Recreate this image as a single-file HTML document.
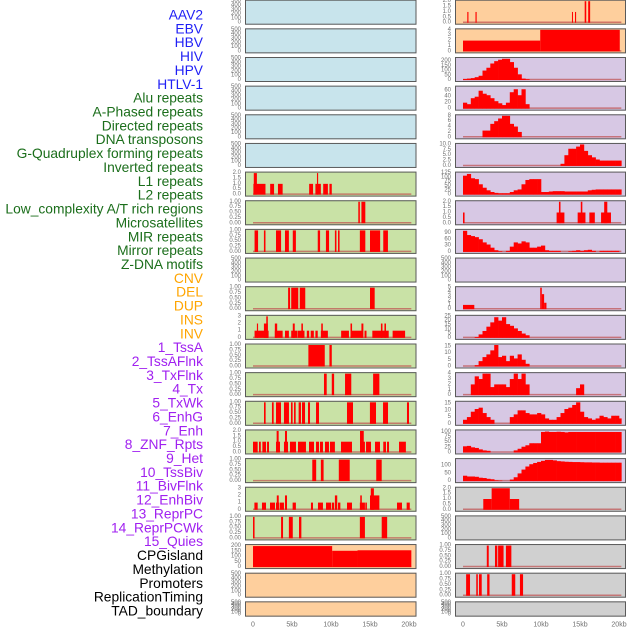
<!DOCTYPE html>
<html><head><meta charset="utf-8"><style>
html,body{margin:0;padding:0;background:#fff;width:630px;height:630px;overflow:hidden}
svg{display:block;font-family:"Liberation Sans",sans-serif}
</style></head><body>
<svg id="chart" width="630" height="630" viewBox="0 0 630 630"></svg>
<script>
// ---- labels ----
const rowLabels = ["AAV2","EBV","HBV","HIV","HPV","HTLV-1","Alu repeats","A-Phased repeats","Directed repeats","DNA transposons","G-Quadruplex forming repeats","Inverted repeats","L1 repeats","L2 repeats","Low_complexity A/T rich regions","Microsatellites","MIR repeats","Mirror repeats","Z-DNA motifs","CNV","DEL","DUP","INS","INV","1_TssA","2_TssAFlnk","3_TxFlnk","4_Tx","5_TxWk","6_EnhG","7_Enh","8_ZNF_Rpts","9_Het","10_TssBiv","11_BivFlnk","12_EnhBiv","13_ReprPC","14_ReprPCWk","15_Quies","CPGisland","Methylation","Promoters","ReplicationTiming","TAD_boundary"];
const labelGroups = [6,13,5,15,5];
const xTickValues = [0,5,10,15,20];
const xTickLabels = ["0","5kb","10kb","15kb","20kb"];
// ---- tick label sets ----
const T500 = ["0","100","200","300","400","500"];
const T1 = ["0.00","0.25","0.50","0.75","1.00"];
const T2 = ["0.0","0.5","1.0","1.5","2.0"];
const T3 = ["0","1","2","3"];
const T4 = ["0","1","2","3","4"];
// ---- interval data [startKb, endKb, value] ----
const alu = [[0.05,1.6,1],[0.1,0.5,2],[2.2,2.7,1],[3.2,3.8,1],[7.2,7.7,1],[8.0,8.7,1],[8.2,8.35,2],[9.0,9.6,1],[9.8,10.1,1]];
const aphased = [[13.5,13.7,1],[13.9,14.4,1]];
const directed = [[0.2,0.65,1],[1.4,1.6,1],[2.95,3.6,1],[4.1,4.6,1],[5.1,5.5,1],[8.3,8.6,1],[9.35,9.75,1],[10.5,10.7,1],[10.9,11.1,1],[13.7,14.4,1],[15.0,16.3,1],[16.7,17.3,1]];
const gquad = [[4.5,4.75,1],[4.9,5.8,1],[6.0,6.7,1],[15.0,15.6,1]];
const inverted = [[0.2,2.0,1],[0.5,0.65,2],[1.4,1.9,2],[1.7,1.9,3],[2.8,3.1,2],[2.8,3.8,1],[4.1,4.6,1],[4.9,5.7,1],[5.1,5.35,2],[5.75,6.6,1],[6.2,6.4,2],[6.9,7.2,1],[7.4,7.8,1],[8.0,8.3,1],[8.7,9.6,1],[8.75,8.95,2],[11.3,12.3,1],[12.5,14.0,1],[12.5,12.7,2],[13.9,14.15,2],[14.3,14.55,1],[15.3,17.4,1],[16.4,16.6,2],[16.85,17.05,2],[17.9,19.5,1]];
const l1 = [[7.1,9.2,1],[9.8,10.1,1]];
const l2 = [[9.1,9.45,1],[10.1,10.4,1],[11.8,12.6,1],[15.4,16.2,1]];
const lowcomp = [[1.41,1.62,1],[2.43,2.65,1],[2.95,3.59,1],[3.97,4.61,1],[4.87,5.08,1],[5.26,5.47,1],[5.85,6.15,1],[6.28,6.67,1],[7.05,7.31,1],[8.08,8.46,1],[12.05,12.82,1],[14.99,15.77,1],[16.67,17.31,1],[19.74,20.0,1]];
const micro = [[0,0.6,1],[0.77,1.0,1],[1.2,1.67,1],[1.8,2.05,1],[2.95,3.46,1],[3.03,3.29,2],[3.97,4.49,1],[4.1,4.36,2],[4.74,5.51,1],[5.77,6.79,1],[7.18,7.82,1],[8.08,8.46,1],[8.59,8.97,1],[9.23,9.74,1],[9.87,10.5,1],[11.28,12.69,1],[13.72,14.35,1],[13.72,14.2,2],[14.49,15.13,1],[15.64,16.28,1],[16.7,17.05,1],[17.18,17.44,1],[18.72,19.6,1]];
const mir = [[7.6,8.1,1],[8.7,9.05,1],[11.0,12.4,1],[15.8,16.5,1]];
const mirror = [[0.18,0.6,1],[1.15,1.67,1],[2.18,2.82,1],[2.95,3.38,1],[3.05,3.3,2],[3.46,3.97,1],[4.1,4.36,2],[5.08,5.5,1],[7.43,7.69,1],[8.33,8.97,1],[9.36,10.0,1],[10.1,10.4,1],[10.5,10.8,2],[10.9,11.2,1],[12.05,12.69,1],[13.7,14.35,1],[13.75,13.95,2],[14.4,14.6,1],[15.0,16.2,2],[15.1,15.5,3],[18.46,19.1,1],[19.7,20.1,1]];
const zdna = [[0,0.2,1],[3.6,3.85,1],[4.6,5.1,1],[5.9,6.2,1],[13.7,14.35,1],[16.5,17.2,1]];
const cnv = [[0,10.15,200],[10.15,13.4,155],[13.4,20.3,160]];
const ins = [[0.55,0.7,1],[1.6,1.75,1],[13.97,14.1,1],[14.36,14.5,1],[15.6,15.8,2],[16.05,16.3,2]];
const inv = [[0,9.9,2],[9.9,20.1,4]];
const enhG = [[0,0.2,1],[12.0,13.0,1],[12.3,12.5,2],[14.7,15.7,1],[15.1,15.3,2],[16.2,16.9,1],[17.7,18.97,1],[18.1,18.5,2]];
const het = [[0,1.45,1],[9.9,10.1,5],[10.1,10.4,3.5],[10.4,10.7,1.5]];
const cpg = [[2.6,3.67,1],[3.67,6.0,2],[6.0,7.2,1]];
const promoters = [[3.05,3.3,1],[4.1,4.4,1],[4.5,5.2,1],[5.5,6.2,1]];
const replication = [[0.4,0.9,1],[1.7,1.9,1],[2.05,2.4,1],[3.1,3.4,1],[6.25,6.7,1],[7.3,7.7,1]];
// ---- binned data (0.5kb bins from 0kb) ----
const tssA = [10,15,20,30,45,100,130,175,200,215,225,225,190,130,60,15,8,0,0,0,0,0,0,0,0,0,0,0,0,0,0,0,0,0,0,0,0,0,0,0,0];
const tssAFlnk = [20,15,35,40,60,50,45,35,25,18,12,20,55,65,45,65,15,0,0,0,0,0,0,0,0,0,0,0,0,0,0,0,0,0,0,0,0,0,0,0,0];
const txFlnk = [0,0,0,0,0,2.5,2.5,5,6,7,8,8,5,4,2,0,0,0,0,0,0,0,0,0,0,0,0,0,0,0,0,0,0,0,0,0,0,0,0,0,0];
const tx = [0,0,0,0,0,0,0,0,0,0,0,0,0,0,0,0,0,0,0,0,0,0,0,0,0,1,5,8,8,9,10,7,5,4,3,2.5,2.5,2.5,2.5,2.5,2.5];
const txWk = [110,120,95,90,60,40,25,15,10,8,8,8,15,25,30,60,85,90,90,90,15,15,18,20,20,20,18,18,18,18,18,18,25,28,30,30,30,30,30,30,30];
const enh = [100,80,75,70,60,45,35,20,8,3,0,5,25,45,40,50,45,20,20,25,30,8,5,5,5,0,0,3,5,8,5,8,10,5,0,5,5,5,5,5,0];
const tssBiv = [0,0,0,1,4,8,13,18,24,20,24,16,14,11,8,5,3,0,0,0,0,0,0,0,0,0,0,0,0,0,0,0,0,0,0,0,0,0,0,0,0];
const bivFlnk = [0,0,0,1,4,7,9,12,16,7,8,4,8,6,9,5,2,0,0,0,0,0,0,0,0,0,0,0,0,0,0,0,0,0,0,0,0,0,0,0,0];
const enhBiv = [0,0,2,3.5,3,4,4,1.5,2,2,2,1.5,3,4,3,4,2,0,0,0,0,0,0,0,0,0,0,0,0,1.3,2,0,0,0,0,0,0,0,0,0,0];
const reprPC = [3,5,9,11,12,8,5,3,0,0,0,0,5,7,10,10,8,7,7,8,7,4,3,3,5,8,11,12,14,16,9,5,4,3,4,6,5,4,6,6,4];
const reprPCWk = [30,32,25,22,15,10,8,0,0,0,0,0,0,10,18,28,35,45,45,45,100,102,100,100,101,100,98,100,100,100,100,100,100,100,100,100,100,100,100,100,100];
const quies = [35,30,30,28,22,20,15,12,5,3,0,0,10,25,50,75,95,110,118,125,132,138,138,135,130,128,126,125,124,124,123,122,122,121,121,120,120,120,120,120,120];

const BLUE="#c8e4ec",GREEN="#c9e2a6",PEACH="#fecf9d",LAV="#d7c8e4",GRAY="#d0d0d0";
const panels = [
 // left column
 {c:0,r:0,bg:BLUE,ymax:500,ticks:T500,iv:null},{c:0,r:1,bg:BLUE,ymax:500,ticks:T500,iv:null},
 {c:0,r:2,bg:BLUE,ymax:500,ticks:T500,iv:null},{c:0,r:3,bg:BLUE,ymax:500,ticks:T500,iv:null},
 {c:0,r:4,bg:BLUE,ymax:500,ticks:T500,iv:null},{c:0,r:5,bg:BLUE,ymax:500,ticks:T500,iv:null},
 {c:0,r:6,bg:GREEN,ymax:2,ticks:T2,iv:alu},{c:0,r:7,bg:GREEN,ymax:1,ticks:T1,iv:aphased},
 {c:0,r:8,bg:GREEN,ymax:1,ticks:T1,iv:directed},{c:0,r:9,bg:GREEN,ymax:500,ticks:T500,iv:null},
 {c:0,r:10,bg:GREEN,ymax:1,ticks:T1,iv:gquad},{c:0,r:11,bg:GREEN,ymax:3,ticks:T3,iv:inverted},
 {c:0,r:12,bg:GREEN,ymax:1,ticks:T1,iv:l1},{c:0,r:13,bg:GREEN,ymax:1,ticks:T1,iv:l2},
 {c:0,r:14,bg:GREEN,ymax:1,ticks:T1,iv:lowcomp},{c:0,r:15,bg:GREEN,ymax:2,ticks:T2,iv:micro},
 {c:0,r:16,bg:GREEN,ymax:1,ticks:T1,iv:mir},{c:0,r:17,bg:GREEN,ymax:3,ticks:T3,iv:mirror},
 {c:0,r:18,bg:GREEN,ymax:1,ticks:T1,iv:zdna},{c:0,r:19,bg:PEACH,ymax:205,ticks:["0","50","100","150","200"],iv:cnv},
 {c:0,r:20,bg:PEACH,ymax:500,ticks:T500,iv:null},{c:0,r:21,bg:PEACH,ymax:500,ticks:T500,iv:null},
 // right column
 {c:1,r:0,bg:PEACH,ymax:2,ticks:T2,iv:ins},{c:1,r:1,bg:PEACH,ymax:4,ticks:T4,iv:inv},
 {c:1,r:2,bg:LAV,ymax:228,ticks:["0","50","100","150","200"],bins:tssA},
 {c:1,r:3,bg:LAV,ymax:72,ticks:["0","20","40","60"],bins:tssAFlnk},
 {c:1,r:4,bg:LAV,ymax:8,ticks:["0","2","4","6","8"],bins:txFlnk},
 {c:1,r:5,bg:LAV,ymax:10,ticks:["0.0","2.5","5.0","7.5","10.0"],bins:tx},
 {c:1,r:6,bg:LAV,ymax:125,ticks:["0","25","50","75","100","125"],bins:txWk},
 {c:1,r:7,bg:LAV,ymax:2,ticks:T2,iv:enhG},
 {c:1,r:8,bg:LAV,ymax:102,ticks:["0","30","60","90"],bins:enh},
 {c:1,r:9,bg:LAV,ymax:500,ticks:T500,iv:null},
 {c:1,r:10,bg:LAV,ymax:5,ticks:["0","1","2","3","4","5"],iv:het},
 {c:1,r:11,bg:LAV,ymax:25,ticks:["0","5","10","15","20","25"],bins:tssBiv},
 {c:1,r:12,bg:LAV,ymax:16,ticks:["0","5","10","15"],bins:bivFlnk},
 {c:1,r:13,bg:LAV,ymax:4,ticks:T4,bins:enhBiv},
 {c:1,r:14,bg:LAV,ymax:16,ticks:["0","5","10","15"],bins:reprPC},
 {c:1,r:15,bg:LAV,ymax:105,ticks:["0","25","50","75","100"],bins:reprPCWk},
 {c:1,r:16,bg:LAV,ymax:140,ticks:["0","50","100"],bins:quies},
 {c:1,r:17,bg:GRAY,ymax:2,ticks:T2,iv:cpg},{c:1,r:18,bg:GRAY,ymax:500,ticks:T500,iv:null},
 {c:1,r:19,bg:GRAY,ymax:1,ticks:T1,iv:promoters},{c:1,r:20,bg:GRAY,ymax:1,ticks:T1,iv:replication},
 {c:1,r:21,bg:GRAY,ymax:500,ticks:T500,iv:null}
];

const NS="http://www.w3.org/2000/svg";
const svg=document.getElementById('chart');
function mk(tag,attrs,parent){const e=document.createElementNS(NS,tag);for(const k in attrs)e.setAttribute(k,attrs[k]);(parent||svg).appendChild(e);return e;}
const colX=[{l:245,r:416.5,x0:253},{l:455,r:626,x0:463}];
const KB=7.8, DATA_END=20.3;
function xScale(c,kb){return colX[c].x0+kb*KB;}
function rowTop(r){return 28.65*r-0.3;}
function rowH(r){return r===21?15.3:25;}
function yScale(p,v){const t=rowTop(p.r),h=rowH(p.r);const y0=t+h-2,y1=t+1.5;return y0-(v/p.ymax)*(y0-y1);}

// labels
const colors=["#1f1ff5","#1b6e1b","#ffa500","#a020f0","#000000"];
let gi=0,cnt=0;
rowLabels.forEach((txt,i)=>{
  while(cnt>=labelGroups[gi]){gi++;cnt=0;}
  cnt++;
  const t=mk('text',{x:203,y:15+13.86*i,'text-anchor':'end','dominant-baseline':'central','font-size':'13.8',fill:colors[gi]});
  t.textContent=txt;
  
  
});

panels.forEach((p,pi)=>{
  const g=mk('g',{});
  
  
  const t=rowTop(p.r),h=rowH(p.r),L=colX[p.c].l,R=colX[p.c].r;
  const bg=mk('rect',{x:L,y:t,width:R-L,height:h,fill:p.bg,stroke:'none'},g);
  
  
  // ticks
  p.ticks.forEach(s=>{
    const tt=mk('text',{x:L-4,y:yScale(p,parseFloat(s)),'text-anchor':'end','dominant-baseline':'central','font-size':'6',fill:'#707070'},g);
    tt.textContent=s;
    
    
  });
  const y0=yScale(p,0);
  if(p.iv||p.bins){
    const bl=mk('line',{x1:xScale(p.c,0),x2:xScale(p.c,DATA_END),y1:y0-0.5,y2:y0-0.5,stroke:'#c05050','stroke-width':1.5,opacity:0.7},g);
    
    
  }
  if(p.iv){
    p.iv.forEach(d=>{
      const x1=xScale(p.c,d[0]),x2=xScale(p.c,d[1]),y=yScale(p,d[2]);
      const b=mk('rect',{x:x1,y:y,width:Math.max(1,x2-x1),height:y0-y,fill:'#ff0000'},g);
      
      
    });
  }
  if(p.bins){
    p.bins.forEach((v,i)=>{
      if(v<=0)return;
      const s=i*0.5,e=Math.min(DATA_END,s+0.5);
      const x1=xScale(p.c,s),x2=xScale(p.c,e),y=yScale(p,v);
      const b=mk('rect',{x:x1,y:y,width:x2-x1+0.3,height:y0-y,fill:'#ff0000'},g);
      
      
    });
  }
  const br=mk('rect',{x:L+0.5,y:t+0.5,width:R-L-1,height:h-1,fill:'none',stroke:'#5a5a5a','stroke-width':1},g);
  
  
});

// x axes
[0,1].forEach(c=>{
  xTickValues.forEach((v,i)=>{
    const t=mk('text',{x:xScale(c,v),y:625,'text-anchor':'middle','dominant-baseline':'central','font-size':'7',fill:'#707070'});
    t.textContent=xTickLabels[i];
    
    
  });
});
</script>
</body></html>
